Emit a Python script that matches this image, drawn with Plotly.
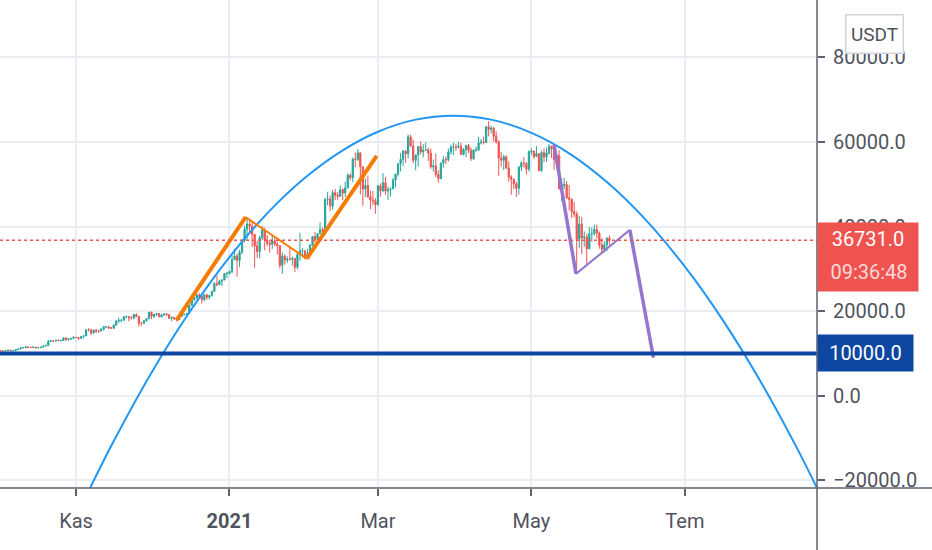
import plotly.graph_objects as go
import pandas as pd

# BTC/USDT gunluk mumlar, 2020-10-01 .. 2021-06-01
dates = pd.date_range("2020-10-01", "2021-06-01", freq="D")
first_open = 10780

closes = [
    # Eki
    10620, 10570, 10550, 10670, 10790, 10600, 10670, 10920, 11060, 11300,
    11380, 11540, 11430, 11430, 11500, 11320, 11370, 11500, 11750, 11910,
    12820, 12970, 12930, 13120, 13030, 13070, 13650, 13280, 13460, 13560, 13800,
    # Kas
    13760, 13550, 14030, 14150, 15600, 15590, 14840, 15480, 15330, 15310,
    15700, 16290, 16320, 16070, 15960, 16720, 17660, 17800, 17820, 18680,
    18710, 18420, 18370, 19160, 18720, 17150, 17140, 17720, 18180, 19700,
    # Ara
    18760, 19220, 19420, 18650, 19150, 19360, 19170, 18320, 18550, 18250,
    18030, 18800, 19170, 19270, 19430, 21340, 22800, 23110, 23820, 23450,
    22720, 23820, 23240, 23730, 24690, 26490, 26280, 27080, 27380, 28880, 28920,
    # Oca
    29330, 32180, 33000, 31990, 33950, 36770, 39430, 40580, 40090, 38150,
    35400, 34050, 37370, 39140, 36760, 36010, 35790, 36630, 35890, 35470,
    30820, 33000, 32060, 32260, 32250, 32470, 30360, 33360, 34250, 34260, 33080,
    # Sub
    33490, 35500, 37620, 36920, 38290, 39250, 38850, 46400, 46490, 44830,
    47980, 47380, 47130, 48700, 47930, 49150, 52120, 51550, 55910, 55840,
    57410, 54090, 48890, 49680, 47020, 46280, 46100, 45140,
    # Mar
    49590, 48440, 50350, 48370, 48750, 48880, 50970, 52380, 54880, 55860,
    57800, 57220, 61190, 59000, 55640, 56910, 58910, 57650, 58030, 58100,
    57350, 54080, 54340, 52300, 51300, 55030, 55820, 55780, 57630, 58760, 58800,
    # Nis
    58730, 58960, 57060, 58200, 59130, 57990, 56000, 58090, 58090, 59770,
    60000, 59860, 63580, 62960, 63220, 61340, 60010, 56150, 55660, 56470,
    53800, 51700, 51190, 50100, 49060, 54030, 55030, 54860, 53560, 57700,
    # May + 1 Haz
    57830, 56570, 57200, 53240, 57470, 56430, 57380, 58930, 58280, 55860,
    56750, 49000, 49700, 49930, 46760, 46430, 43540, 42910, 36970, 40600,
    37300, 37540, 34770, 38310, 38350, 39300, 38440, 35670, 34610, 35680, 37250,
    36731,
]

highs = [
    10920, 10670, 10600, 10690, 10800, 10800, 10690, 10950, 11110, 11490,
    11440, 11730, 11560, 11560, 11640, 11540, 11400, 11500, 11820, 12030,
    13220, 13200, 13030, 13160, 13350, 13250, 13780, 13860, 13640, 13660, 14100,
    13900, 13830, 14070, 14250, 15760, 15960, 15700, 15650, 15850, 15480,
    15970, 16490, 16500, 16330, 16150, 16880, 17860, 18480, 18140, 18800,
    18960, 18750, 18770, 19420, 19490, 18940, 17450, 17860, 18340, 19860,
    19920, 19310, 19560, 19500, 19170, 19420, 19390, 19300, 18630, 18560,
    18290, 18950, 19400, 19350, 19570, 21560, 23770, 23290, 24100, 24290,
    24100, 24100, 24120, 23800, 24790, 26870, 28420, 27390, 27400, 29020, 29300,
    29600, 33300, 34780, 33600, 34500, 36940, 40180, 41950, 41380, 41350,
    38260, 36630, 37850, 40100, 39700, 38000, 36850, 37850, 37450, 36400,
    35600, 33830, 33440, 32940, 34870, 32920, 32560, 34000, 38500, 34900, 34300,
    34710, 35900, 37650, 38700, 38300, 40950, 39700, 46750, 48200, 47300,
    48630, 48880, 48180, 49700, 49000, 50550, 52600, 52520, 56300, 57500,
    58350, 57500, 54180, 51370, 52050, 48400, 48400, 46700,
    49800, 50200, 52640, 51770, 49450, 49200, 51450, 52400, 54900, 57390,
    58150, 58050, 61790, 61680, 60600, 56940, 58980, 60100, 59450, 59880,
    58650, 58400, 55830, 57200, 53230, 55070, 56640, 56550, 58400, 59370, 59800,
    59470, 60000, 59800, 58500, 59250, 59500, 58650, 58150, 58870, 61200,
    60700, 61200, 63770, 64850, 63800, 63520, 62500, 60400, 57600, 57000,
    56800, 55400, 52120, 51170, 50600, 54360, 55460, 56430, 55200, 57960,
    58450, 57960, 59000, 57250, 57900, 58400, 58650, 59500, 59200, 59600,
    57000, 58000, 51400, 51500, 50700, 49800, 46650, 45800, 43550, 42450,
    42200, 38850, 38270, 39900, 39800, 40450, 40420, 38850, 37280, 36500, 37450,
    37900,
]

lows = [
    10440, 10370, 10500, 10500, 10530, 10530, 10580, 10540, 10830, 11030,
    11280, 11210, 11350, 11270, 11280, 11220, 11310, 11340, 11410, 11680,
    11880, 12730, 12720, 12880, 12910, 12800, 13050, 12960, 12990, 13140, 13420,
    13620, 13200, 13500, 13530, 14100, 15160, 14350, 14700, 14820, 14850,
    15250, 15450, 15980, 15770, 15800, 15880, 16560, 17220, 17340, 17750,
    18330, 17600, 18040, 18100, 18580, 16330, 16550, 16880, 17530, 18180,
    18100, 18330, 18870, 18570, 18510, 18920, 18900, 18200, 17650, 17910,
    17570, 18020, 18710, 19000, 19050, 19290, 21240, 22350, 22750, 23060,
    21810, 22370, 22700, 22700, 23420, 24500, 25800, 26090, 25880, 27320, 27850,
    28620, 29000, 32000, 28130, 30400, 33450, 36300, 36600, 38720, 35100,
    30260, 32500, 32470, 36750, 34400, 35360, 33850, 34750, 35400, 33400,
    30070, 28800, 30990, 31420, 31910, 30830, 29250, 29900, 31920, 32700, 32200,
    32300, 33420, 35360, 36160, 36600, 38220, 37350, 38050, 45000, 43700,
    43970, 46300, 46350, 47050, 46200, 47000, 48960, 50900, 50450, 54000,
    55500, 47600, 44900, 46980, 46800, 44100, 45000, 43000,
    45000, 47050, 48100, 47500, 46300, 47100, 48880, 49270, 51840, 53000,
    54270, 55050, 56080, 58950, 55000, 53300, 54130, 57020, 56300, 57830,
    55450, 53650, 53000, 51700, 50400, 51300, 53950, 54700, 55380, 57000, 56870,
    57910, 58420, 56900, 56800, 56400, 57400, 55470, 55700, 57650, 57900,
    59400, 59400, 59840, 61300, 62030, 60000, 59600, 52000, 54200, 53350,
    53650, 50580, 47500, 48800, 47000, 47500, 53050, 53900, 52330, 53000,
    56950, 56000, 56420, 53010, 52900, 55200, 55280, 56950, 56200, 53400,
    53780, 48600, 46000, 48800, 46600, 43800, 42000, 42200, 30000, 34850,
    33500, 35250, 31100, 34550, 36420, 37800, 37200, 34750, 33400, 33800, 34150,
    35660,
]

opens = [first_open] + closes[:-1]

# cizimler (resimden okunan noktalar)
arc_dates = ["2020-11-06 12:00", "2020-11-16", "2020-12-01", "2020-12-16", "2021-01-01",
             "2021-01-16", "2021-01-31", "2021-02-15", "2021-03-01", "2021-03-16",
             "2021-03-31", "2021-04-15", "2021-05-01", "2021-05-16", "2021-05-31",
             "2021-06-15", "2021-07-01", "2021-07-16", "2021-07-31", "2021-08-15",
             "2021-08-22 12:00"]
arc_values = [-21900, -10700, 5460, 19670, 32780, 43100, 51500, 58000, 62400, 65260,
              66200, 65260, 62140, 57300, 50500, 41850, 30500, 17930, 3420, -12900,
              -21800]

orange_dates = ["2020-12-11", "2021-01-07 10:00", "2021-01-31 17:00", "2021-02-28 12:00"]
orange_values = [17900, 42200, 32400, 56700]

purple_dates = ["2021-05-10 00:00", "2021-05-18 17:00", "2021-06-09 03:00", "2021-06-18 12:00"]
purple_values = [59300, 28800, 39200, 8970]

last_price = 36731
countdown = "09:36:48"
support_level = 10000

tick_dates = ["2020-11-01", "2021-01-01", "2021-03-01", "2021-05-01", "2021-07-01"]
tick_names = ["Kas", "<b>2021</b>", "Mar", "May", "Tem"]

up = "#26a69a"
down = "#ef5350"
axis_col = "#5d606b"
text_col = "#50535e"
grid_col = "#eaedf2"
navy = "#0d47a1"

fig = go.Figure()

fig.add_trace(go.Candlestick(
    x=dates, open=opens, high=highs, low=lows, close=closes,
    increasing=dict(line=dict(color=up, width=1), fillcolor=up),
    decreasing=dict(line=dict(color=down, width=1), fillcolor=down),
    whiskerwidth=0, hoverinfo="skip", showlegend=False))

fig.add_trace(go.Scatter(x=arc_dates, y=arc_values, mode="lines",
                         line=dict(color="#2196f3", width=2, shape="spline"),
                         hoverinfo="skip", showlegend=False))

# turuncu: kalin - ince - kalin
for i, w in enumerate([4, 2, 4]):
    fig.add_trace(go.Scatter(x=orange_dates[i:i + 2], y=orange_values[i:i + 2], mode="lines",
                             line=dict(color="#f57c00", width=w),
                             hoverinfo="skip", showlegend=False))

for i, w in enumerate([3.5, 2, 3.5]):
    fig.add_trace(go.Scatter(x=purple_dates[i:i + 2], y=purple_values[i:i + 2], mode="lines",
                             line=dict(color="#9575cd", width=w),
                             hoverinfo="skip", showlegend=False))

shapes = [
    dict(type="line", xref="paper", yref="y", x0=0, x1=1, y0=last_price, y1=last_price,
         line=dict(color=down, width=1.5, dash="dot"), layer="above"),
    dict(type="line", xref="paper", yref="y", x0=0, x1=1, y0=support_level, y1=support_level,
         line=dict(color=navy, width=4), layer="above"),
    # eksen cizgileri
    dict(type="line", xref="paper", yref="paper", x0=0, x1=1.2, y0=0, y1=0,
         line=dict(color=axis_col, width=1.5), layer="above"),
    dict(type="line", xref="paper", yref="paper", x0=1, x1=1, y0=-0.2, y1=1,
         line=dict(color=axis_col, width=1.5), layer="above"),
]

annotations = [
    # son fiyat etiketi
    dict(xref="paper", yref="y", x=1, y=last_price, xanchor="left", yanchor="top", yshift=18,
         text=f"{last_price:.1f}", valign="top",
         showarrow=False, bgcolor=down, borderpad=4, width=92, height=60, align="center",
         font=dict(color="white", size=20, family="Roboto")),
    dict(xref="paper", yref="y", x=1, y=last_price, xanchor="left", yanchor="middle", yshift=-32,
         text=countdown, showarrow=False, width=100, align="center",
         font=dict(color="#fdd9d9", size=20, family="Roboto")),
    dict(xref="paper", yref="y", x=1, y=support_level, xanchor="left", yanchor="middle",
         text=f"{support_level:.1f}", showarrow=False, bgcolor=navy, borderpad=0,
         width=95, height=36, align="center",
         font=dict(color="white", size=20, family="Roboto")),
    dict(xref="paper", yref="paper", x=1, y=1, xanchor="left", yanchor="top", xshift=28, yshift=-14,
         text="USDT", showarrow=False, bgcolor="white", bordercolor="#d1d4dc", borderwidth=1.5,
         borderpad=0, width=56, height=37, font=dict(color=text_col, size=19, family="Roboto")),
]

fig.update_layout(
    width=932, height=550,
    margin=dict(l=0, r=115, t=0, b=62),
    paper_bgcolor="white", plot_bgcolor="white",
    font=dict(family="Roboto", size=20, color=text_col),
    shapes=shapes, annotations=annotations,
    showlegend=False,
    xaxis=dict(type="date", range=["2020-10-01 19:00", "2021-08-22 12:00"],
               rangeslider=dict(visible=False),
               tickvals=tick_dates, ticktext=tick_names,
               showgrid=True, gridcolor=grid_col, gridwidth=1.5,
               showline=False, zeroline=False,
               ticks="outside", ticklen=7, tickcolor=axis_col, tickwidth=1.5,
               ticklabelstandoff=8,
               tickfont=dict(size=20, color=text_col)),
    yaxis=dict(side="right", range=[-21800, 93530],
               tick0=0, dtick=20000, tickformat=".1f",
               showgrid=True, gridcolor=grid_col, gridwidth=1.5,
               showline=False, zeroline=False,
               ticks="outside", ticklen=7, tickcolor=axis_col, tickwidth=1.5,
               ticklabelstandoff=4,
               tickfont=dict(size=20, color=text_col)),
)

# sayfa kenar boslugunu kaldir
fig.write_html("out.html", config={"displayModeBar": False},
               post_script="document.body.style.margin='0';")
